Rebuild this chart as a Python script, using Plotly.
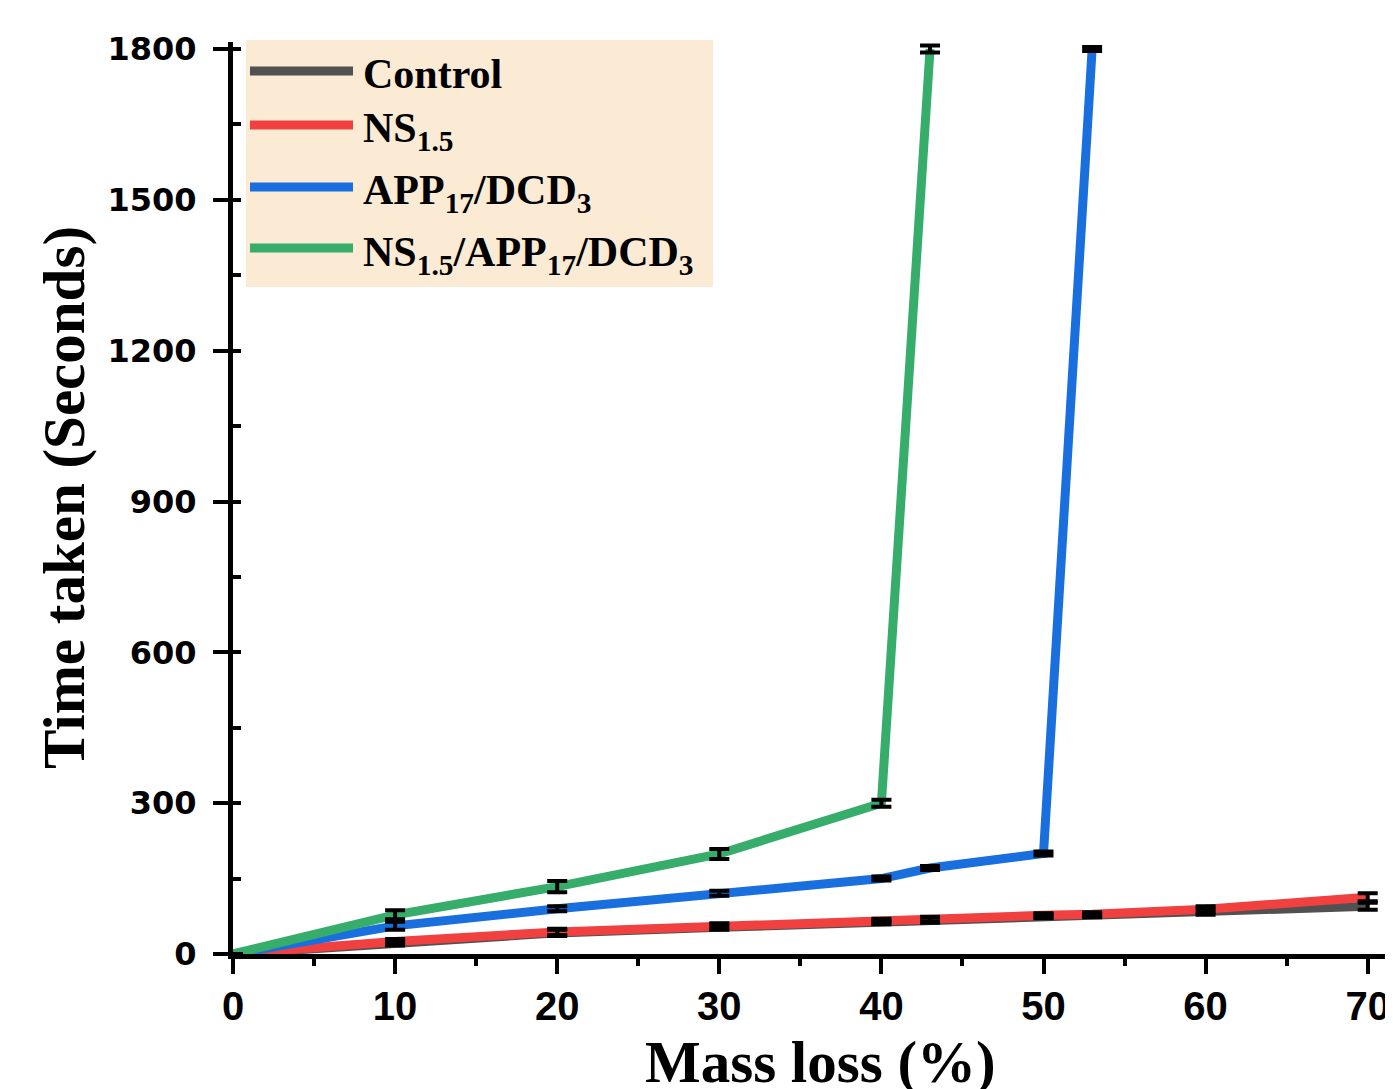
import plotly.graph_objects as go

# ---------------- data ----------------
x_control = [0, 10, 20, 30, 40, 43, 50, 53, 60, 70]
y_control = [0, 22, 42, 53, 63, 67, 75, 77, 84, 95]
e_control = [0, 5, 6, 5, 4, 5, 4, 4, 6, 7]

x_ns = [0, 10, 20, 30, 40, 43, 50, 53, 60, 70]
y_ns = [0, 25, 44, 56, 66, 69, 77, 79, 89, 113]
e_ns = [0, 5, 6, 5, 4, 5, 4, 4, 6, 8]

x_app = [0, 10, 20, 30, 40, 43, 50, 53]
y_app = [0, 56, 90, 121, 150, 171, 200, 1800]
e_app = [0, 8, 5, 5, 4, 4, 4, 4]

x_nsapp = [0, 10, 20, 30, 40, 43]
y_nsapp = [0, 78, 134, 199, 300, 1800]
e_nsapp = [0, 9, 11, 10, 7, 7]

series_names = ["Control", "NS<sub>1.5</sub>", "APP<sub>17</sub>/DCD<sub>3</sub>",
                "NS<sub>1.5</sub>/APP<sub>17</sub>/DCD<sub>3</sub>"]
series_colors = ["#515151", "#F14040", "#1A6FDF", "#37AD6B"]

x_ticks = [0, 10, 20, 30, 40, 50, 60, 70]
y_ticks = [0, 300, 600, 900, 1200, 1500, 1800]

# ---------------- geometry ----------------
# the page body adds an 8 px offset; compensate so the picture lines up
OFF = 8
W, H = 1393 - OFF, 1089 - OFF
L, R, T, B = 233 - OFF, 0, 42 - OFF, 135
PW = W - L - R
PH = H - T - B


def px(xp):
    return (xp - OFF - L) / PW


def py(yp):
    return (H - B - (yp - OFF)) / PH


fig = go.Figure()
data = [(x_control, y_control, e_control), (x_ns, y_ns, e_ns),
        (x_app, y_app, e_app), (x_nsapp, y_nsapp, e_nsapp)]

# lines
for (xs, ys, es), name, col in zip(data, series_names, series_colors):
    fig.add_trace(go.Scatter(
        x=xs, y=ys, name=name, mode="lines",
        line=dict(color=col, width=9),
        showlegend=False, cliponaxis=False,
    ))
# error bars drawn on top of the lines
for (xs, ys, es), name, col in zip(data, series_names, series_colors):
    fig.add_trace(go.Scatter(
        x=xs, y=ys, name=name + " error", mode="markers",
        marker=dict(size=1, color="rgba(0,0,0,0)"),
        error_y=dict(type="data", array=es, visible=True, color="black",
                     thickness=4, width=10),
        showlegend=False, cliponaxis=False, hoverinfo="skip",
    ))

# custom legend (long line samples as in the original)
shapes = [dict(type="rect", xref="paper", yref="paper",
               x0=px(246), x1=px(713), y0=py(287), y1=py(40),
               fillcolor="#FBEBD5", line=dict(width=0), layer="below")]
annotations = []
leg_line_y = [71, 125, 187, 248]
leg_text_y = [74, 131, 193, 255]
for name, col, ly, ty in zip(series_names, series_colors, leg_line_y, leg_text_y):
    shapes.append(dict(type="line", xref="paper", yref="paper",
                       x0=px(250), x1=px(353), y0=py(ly), y1=py(ly),
                       line=dict(color=col, width=9)))
    annotations.append(dict(xref="paper", yref="paper", x=px(361), y=py(ty),
                            xanchor="left", yanchor="middle", showarrow=False,
                            text=name,
                            font=dict(family="Liberation Serif, Times New Roman, serif",
                                      size=42, color="black", weight="bold")))

# axis titles
annotations.append(dict(xref="paper", yref="paper", x=px(820), y=py(1062),
                        xanchor="center", yanchor="middle", showarrow=False,
                        text="Mass loss (%)",
                        font=dict(family="Liberation Serif, Times New Roman, serif",
                                  size=59, color="black", weight="bold")))
annotations.append(dict(xref="paper", yref="paper", x=px(64), y=py(497),
                        xanchor="center", yanchor="middle", showarrow=False,
                        textangle=-90, text="Time taken (Seconds)",
                        font=dict(family="Liberation Serif, Times New Roman, serif",
                                  size=59, color="black", weight="bold")))

fig.update_layout(
    width=W, height=H,
    margin=dict(l=L, r=R, t=T, b=B, pad=0),
    paper_bgcolor="white", plot_bgcolor="white",
    shapes=shapes, annotations=annotations,
    showlegend=False,
)

fig.update_xaxes(
    range=[0, (1393 - 233) / 16.21], tickvals=x_ticks,
    ticktext=[str(v) for v in x_ticks],
    showgrid=False, zeroline=False, showline=True, linecolor="black", linewidth=5,
    ticks="outside", ticklen=15, tickwidth=4, tickcolor="black",
    ticklabelstandoff=-2, automargin=False,
    tickfont=dict(family="Liberation Sans Narrow, Liberation Sans, Arial", size=40,
                  color="black", weight="bold"),
    minor=dict(dtick=5, tick0=0, ticks="outside", ticklen=7, tickwidth=4,
               tickcolor="black", showgrid=False),
)
fig.update_yaxes(
    range=[0, 1814], tickvals=y_ticks, ticktext=[str(v) for v in y_ticks],
    showgrid=False, zeroline=False, showline=True, linecolor="black", linewidth=5,
    ticks="outside", ticklen=15, tickwidth=4, tickcolor="black",
    ticklabelstandoff=10, automargin=False,
    tickfont=dict(family="DejaVu Sans, Verdana", size=32, color="black", weight="bold"),
    minor=dict(dtick=150, tick0=0, ticks="inside", ticklen=8, tickwidth=4,
               tickcolor="black", showgrid=False),
)

fig.write_html("out.html")
